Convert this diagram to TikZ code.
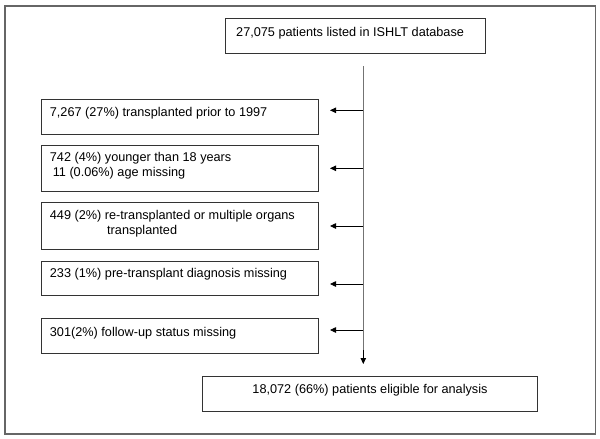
\documentclass[tikz,border=0pt]{standalone}
\usepackage{fontspec}
\setmainfont{Liberation Sans}
\usetikzlibrary{arrows.meta}
\begin{document}
\begin{tikzpicture}[x=1pt,y=-1pt,
  frame/.style={draw=black!60,line width=1.4pt},
  boxst/.style={draw=black!80,line width=0.8pt,inner sep=0pt,anchor=north west},
  txt/.style={inner sep=0pt,anchor=base west,font=\fontsize{12.7}{14.6}\selectfont},
  trunk/.style={draw=black!55,line width=1.2pt},
  arr/.style={draw=black,line width=0.8pt,-{Triangle[length=6pt,width=5.5pt]}}]
\useasboundingbox (0,0) rectangle (600,439);
\draw[frame] (5,6) rectangle (595.5,434);
% boxes
\node[boxst,minimum width=260pt,minimum height=34.5pt] (top) at (225,18) {};
\node[txt] (ttop) at (236,36) {27,075 patients listed in ISHLT database};
\node[boxst,minimum width=277pt,minimum height=35pt] (b1) at (40.5,98.5) {};
\node[txt] (t1) at (49.7,116) {7,267 (27\%) transplanted prior to 1997};
\node[boxst,minimum width=277pt,minimum height=45.7pt] (b2) at (40.5,145) {};
\node[txt] (t2a) at (49.7,161.5) {742 (4\%) younger than 18 years};
\node[txt] (t2b) at (52.6,176.7) {11 (0.06\%) age missing};
\node[boxst,minimum width=277pt,minimum height=46.7pt] (b3) at (40.5,202.3) {};
\node[txt] (t3a) at (49.7,219) {449 (2\%) re-transplanted or multiple organs};
\node[txt] (t3b) at (107,234.2) {transplanted};
\node[boxst,minimum width=277pt,minimum height=34.3pt] (b4) at (40.5,260.7) {};
\node[txt] (t4) at (49.7,277.5) {233 (1\%) pre-transplant diagnosis missing};
\node[boxst,minimum width=277pt,minimum height=34.4pt] (b5) at (40.5,318.3) {};
\node[txt] (t5) at (49.7,336.5) {301(2\%) follow-up status missing};
\node[boxst,minimum width=335pt,minimum height=34.7pt] (bot) at (202,376) {};
\node[txt,anchor=base] (tbot) at (370,393.5) {18,072 (66\%) patients eligible for analysis};
% trunk
\coordinate (vs) at (363.3,66);
\coordinate (ve) at (363.3,364);
\draw[trunk] (vs) -- (363.3,356);
\draw[arr] (363.3,350) -- (ve);
\foreach \n/\y in {1/110.3,2/168.3,3/226,4/284,5/330}{
  \coordinate (j\n) at (363.3,\y);
  \draw[arr] (j\n) -- (330,\y);
}
\end{tikzpicture}
\end{document}
